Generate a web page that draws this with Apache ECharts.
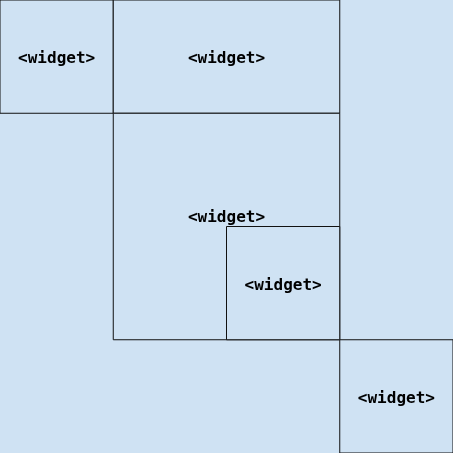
<!DOCTYPE html>
<html style="height: 100%">
<head><meta charset="utf-8"></head>
<body style="height: 100%; margin: 0">
<div id="container" style="height: 100%"></div>
<script src="https://cdn.jsdelivr.net/npm/echarts/dist/echarts.min.js"></script>
<script>
// grid cells in 4x4 units: [x0, y0, x1, y1]
var cells = [
    [0, 0, 1, 1],
    [1, 0, 3, 1],
    [1, 1, 3, 3],
    [2, 2, 3, 3],
    [3, 3, 4, 4]
];
var labels = ['<widget>', '<widget>', '<widget>', '<widget>', '<widget>'];
var labelY = [0.52, 0.52, 1.92, 2.52, 3.52];

var chart = echarts.init(document.getElementById('container'));
var data = cells.map(function (c, i) { return c.concat([labelY[i], i]); });

chart.setOption({
    backgroundColor: '#cfe2f3',
    grid: {left: -1, right: -1, top: -1, bottom: -1},
    xAxis: {type: 'value', min: 0, max: 4, show: false},
    yAxis: {type: 'value', min: 0, max: 4, inverse: true, show: false},
    series: [{
        type: 'custom',
        data: data,
        encode: {x: [0, 2], y: [1, 3]},
        renderItem: function (params, api) {
            var p0 = api.coord([api.value(0), api.value(1)]);
            var p1 = api.coord([api.value(2), api.value(3)]);
            var lp = api.coord([(api.value(0) + api.value(2)) / 2, api.value(4)]);
            return {
                type: 'group',
                children: [{
                    type: 'rect',
                    shape: {x: p0[0], y: p0[1], width: p1[0] - p0[0], height: p1[1] - p0[1]},
                    style: {fill: '#cfe2f3', stroke: '#111', lineWidth: 1}
                }, {
                    type: 'text',
                    style: {
                        x: lp[0], y: lp[1], text: labels[api.value(5)],
                        align: 'center', verticalAlign: 'middle',
                        font: 'bold 16px "DejaVu Sans Mono"', fill: '#000'
                    }
                }]
            };
        }
    }]
});
</script>
</body>
</html>
